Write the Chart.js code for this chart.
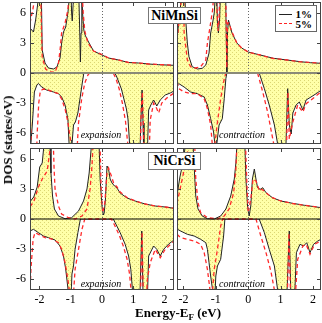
<!DOCTYPE html>
<html>
<head>
<meta charset="utf-8">
<script src="https://cdn.jsdelivr.net/npm/chart.js@4.4.1/dist/chart.umd.min.js"></script>
<style>
  html, body { margin: 0; padding: 0; background: #fff; }
  #wrap { position: relative; width: 322px; height: 323px; overflow: hidden; font-family: 'Liberation Serif', 'Times New Roman', serif; color: #000; }
  #wrap canvas { position: absolute; }
  .tag { position: absolute; box-sizing: border-box; border: 1px solid #777; background: #fff; font-weight: bold; font-size: 14px; line-height: 15px; text-align: center; }
  .note { position: absolute; font-style: italic; font-size: 10px; white-space: nowrap; transform: translate(-50%, -50%); }
  .title { position: absolute; font-weight: bold; font-size: 13px; white-space: nowrap; transform: translate(-50%, -50%); }
  .title sub { font-size: 9px; vertical-align: -3px; line-height: 0; }
  .legend { position: absolute; box-sizing: border-box; border: 1px solid #666; background: #fff; }
  .legend .ln { position: absolute; left: 3px; width: 13px; height: 0; }
  .legend .lab { position: absolute; right: 4px; font-size: 11px; font-weight: bold; line-height: 11px; }
</style>
</head>
<body>
<div id="wrap">
  <canvas id="p0" width="176" height="146" style="left:0;top:0"></canvas>
  <canvas id="p1" width="146" height="146" style="left:176px;top:0"></canvas>
  <canvas id="p2" width="176" height="177" style="left:0;top:146px"></canvas>
  <canvas id="p3" width="146" height="177" style="left:176px;top:146px"></canvas>

  <div class="tag" id="tag0" style="left:148px;top:7px;width:53px;height:17px"></div>
  <div class="tag" id="tag1" style="left:148px;top:152px;width:53px;height:18px"></div>

  <div class="note" id="note0" style="left:101px;top:134px"></div>
  <div class="note" id="note1" style="left:242px;top:134px"></div>
  <div class="note" id="note2" style="left:101px;top:283px"></div>
  <div class="note" id="note3" style="left:242px;top:283px"></div>

  <div class="legend" style="left:275px;top:5px;width:42px;height:27px">
    <div class="ln" style="top:8px;border-top:1px solid #222"></div>
    <div class="lab" id="leg0" style="top:3px"></div>
    <div class="ln" style="top:17px;border-top:1.5px dashed #f22"></div>
    <div class="lab" id="leg1" style="top:13px"></div>
  </div>

  <div class="title" style="left:8px;top:140px;transform:translate(-50%,-50%) rotate(-90deg)">DOS (states/eV)</div>
  <div class="title" style="left:178px;top:313px">Energy-E<sub>F</sub> (eV)</div>
</div>

<script>
const compounds = ['NiMnSi', 'NiCrSi']
const strains = ['expansion', 'contraction']
const seriesNames = ['1%', '5%']
const energyTicks = [-2, -1, 0, 1, 2]
const dosTicks = [-6, -3, 0, 3, 6]

// [E - E_F (eV), DOS (states/eV)]; values beyond +-7 run off the panel
const mnExpUp1 = [[-2.3,4.5],[-2.19,4.1],[-2.12,5.3],[-2.05,7.0],[-2.0,9],[-1.96,9],[-1.93,6.5],[-1.91,2.3],[-1.82,1.0],[-1.71,0.5],[-1.55,0.4],[-1.44,0.6],[-1.34,1.5],[-1.29,3.0],[-1.23,4.1],[-1.16,4.6],[-1.09,6.0],[-1.05,7.3],[-1.0,9],[-0.97,6],[-0.95,5.2],[-0.92,7],[-0.9,9],[-0.75,9],[-0.71,4],[-0.69,1.1],[-0.67,4],[-0.645,8],[-0.62,6],[-0.58,4.3],[-0.54,3.8],[-0.43,3.1],[-0.27,2.2],[0,1.8],[0.21,1.5],[0.53,1.3],[0.85,1.05],[1.17,1.0],[1.49,0.9],[1.81,0.83],[2.3,0.77]]
const mnExpUp5 = [[-2.3,5.0],[-2.2,6.5],[-2.13,8],[-2.0,9],[-1.96,8],[-1.93,4],[-1.91,1.6],[-1.8,0.4],[-1.66,0.1],[-1.5,0.07],[-1.39,1.0],[-1.34,2.3],[-1.29,4.0],[-1.18,5.0],[-1.09,6.3],[-1.05,8],[-0.95,9],[-0.65,9],[-0.6,6],[-0.55,4.2],[-0.45,3.0],[-0.27,2.2],[0,1.85],[0.21,1.5],[0.53,1.3],[0.85,1.05],[1.17,1.0],[1.49,0.9],[1.81,0.85],[2.3,0.78]]
const mnExpDn1 = [[-2.3,-9],[-2.27,-7],[-2.22,-4.9],[-2.16,-1.9],[-2.08,-1.2],[-2.03,-1.05],[-1.93,-1.4],[-1.77,-1.7],[-1.55,-1.9],[-1.39,-2.07],[-1.29,-2.4],[-1.18,-3.2],[-1.09,-4.6],[-1.05,-7.2],[-1.0,-9],[-0.96,-7.2],[-0.91,-5.2],[-0.85,-4.9],[-0.77,-4.0],[-0.7,-2.5],[-0.63,-1.0],[-0.58,0],[0.4,0],[0.46,-0.3],[0.62,-1.6],[0.78,-3.6],[0.83,-4.6],[0.88,-7],[0.9,-9],[1.2,-9],[1.24,-5],[1.28,-1.7],[1.31,-5],[1.34,-9],[1.44,-9],[1.49,-3.7],[1.56,-3.2],[1.65,-2.7],[1.75,-3.3],[1.86,-2.7],[2.02,-2.2],[2.18,-2.0],[2.3,-1.8]]
const mnExpDn5 = [[-2.3,-3.5],[-2.26,-7.2],[-2.24,-9],[-2.1,-9],[-2.07,-6],[-2.02,-3],[-1.97,-1.8],[-1.88,-1.6],[-1.72,-1.7],[-1.55,-1.9],[-1.39,-2.07],[-1.29,-2.6],[-1.18,-3.6],[-1.09,-4.9],[-1.01,-6.6],[-0.97,-9],[-0.82,-9],[-0.75,-5],[-0.65,-2.6],[-0.55,-1.0],[-0.45,-0.2],[-0.4,0],[0.36,0],[0.45,-0.6],[0.55,-1.6],[0.65,-3.0],[0.75,-4.8],[0.82,-7],[0.85,-9],[1.22,-9],[1.25,-4],[1.29,-1.9],[1.32,-5],[1.35,-9],[1.5,-9],[1.54,-4.7],[1.65,-3.0],[1.74,-3.5],[1.81,-4.0],[1.91,-3.0],[2.07,-2.5],[2.3,-2.0]]

const mnConUp1 = [[-2.2,4.0],[-2.17,4.4],[-2.11,6.0],[-2.07,7.5],[-2.03,9],[-1.97,9],[-1.93,5.3],[-1.88,3.0],[-1.83,1.63],[-1.73,0.63],[-1.57,0.4],[-1.42,0.47],[-1.31,0.8],[-1.21,2.0],[-1.16,4.0],[-1.1,5.0],[-1.05,6.0],[-1.02,7.5],[-0.98,9],[-0.95,5],[-0.92,4.0],[-0.88,5.5],[-0.85,9],[-0.7,9],[-0.68,4],[-0.66,0.1],[-0.64,4],[-0.61,5.3],[-0.5,4.0],[-0.35,3.0],[-0.2,2.5],[0,2.1],[0.37,1.8],[0.78,1.47],[1.2,1.3],[1.61,1.13],[1.92,1.03],[2.25,0.97]]
const mnConUp5 = [[-2.2,3.3],[-2.14,5],[-2.06,7.5],[-2.03,9],[-2.0,9],[-1.98,4.0],[-1.88,1.3],[-1.78,0.63],[-1.67,0.47],[-1.47,0.63],[-1.31,1.3],[-1.26,3.0],[-1.18,4.6],[-1.1,6.3],[-1.06,8],[-1.0,9],[-0.96,6],[-0.93,4.2],[-0.9,5.5],[-0.87,9],[-0.7,9],[-0.68,5],[-0.66,0.5],[-0.64,5],[-0.6,5.0],[-0.5,4.1],[-0.35,3.0],[-0.2,2.5],[0,2.1],[0.37,1.8],[0.78,1.45],[1.2,1.3],[1.61,1.12],[1.92,1.05],[2.25,0.97]]
const mnConDn1 = [[-2.2,-1.2],[-2.14,-1.07],[-1.98,-1.4],[-1.78,-1.9],[-1.57,-2.07],[-1.36,-2.4],[-1.26,-3.2],[-1.16,-4.57],[-1.07,-5.9],[-1.03,-7.1],[-1.0,-9],[-0.97,-7.1],[-0.9,-5.2],[-0.8,-4.57],[-0.74,-2.57],[-0.69,-0.57],[-0.66,0],[0.34,0],[0.5,-1.57],[0.65,-3.2],[0.81,-5.2],[0.91,-7.1],[0.95,-9],[1.15,-9],[1.22,-1.57],[1.27,-5.2],[1.33,-6.1],[1.38,-4.0],[1.48,-3.2],[1.58,-2.9],[1.69,-3.7],[1.79,-2.7],[1.94,-2.4],[2.1,-2.07],[2.25,-1.73]]
const mnConDn5 = [[-2.2,-0.9],[-2.14,-1.57],[-1.98,-1.9],[-1.78,-2.07],[-1.57,-2.07],[-1.36,-2.57],[-1.26,-3.57],[-1.16,-5.2],[-1.11,-7.1],[-1.08,-9],[-1.05,-9],[-1.03,-7.1],[-0.95,-4.9],[-0.85,-2.57],[-0.74,-0.57],[-0.69,0],[0.29,0],[0.45,-1.9],[0.6,-3.9],[0.7,-5.6],[0.79,-7.1],[0.82,-9],[1.17,-9],[1.23,-1.9],[1.27,-6.6],[1.38,-4.9],[1.53,-3.2],[1.69,-3.9],[1.79,-3.07],[1.94,-2.7],[2.25,-1.9]]

const crExpUp1 = [[-2.3,1.73],[-2.18,2.2],[-2.07,3.2],[-1.99,5.2],[-1.91,5.6],[-1.86,7.2],[-1.82,9],[-1.7,9],[-1.66,7.2],[-1.63,4.6],[-1.58,2.3],[-1.52,1.0],[-1.39,0.3],[-1.18,0.03],[-0.97,0.13],[-0.75,0.8],[-0.59,1.8],[-0.48,3.0],[-0.41,4.6],[-0.34,7.3],[-0.3,9],[-0.12,9],[-0.09,7.2],[-0.06,4.0],[0.0,1.3],[0.04,0.4],[0.07,0.6],[0.11,2.0],[0.16,5.3],[0.21,5.0],[0.26,4.0],[0.32,3.6],[0.4,3.3],[0.48,3.1],[0.58,2.6],[0.8,2.1],[1.06,1.8],[1.38,1.5],[1.7,1.3],[2.02,1.2],[2.3,1.07]]
const crExpUp5 = [[-2.3,1.23],[-2.18,1.73],[-2.03,3.2],[-1.91,4.0],[-1.75,4.8],[-1.65,7.2],[-1.6,9],[-1.57,9],[-1.53,5],[-1.5,3.0],[-1.39,1.3],[-1.29,0.5],[-1.07,0.13],[-0.86,0],[-0.64,0.3],[-0.48,1.0],[-0.38,3.0],[-0.32,5.3],[-0.29,7.2],[-0.26,9],[-0.09,9],[-0.06,7.2],[-0.03,3.3],[0.02,0.6],[0.09,1.6],[0.16,4.6],[0.21,5.1],[0.3,4.3],[0.37,3.6],[0.48,3.2],[0.58,2.7],[0.8,2.15],[1.06,1.8],[1.38,1.5],[1.7,1.3],[2.02,1.2],[2.3,1.07]]
const crExpDn1 = [[-2.3,-1.2],[-2.19,-1.03],[-2.03,-1.37],[-1.87,-1.7],[-1.71,-1.87],[-1.5,-2.1],[-1.34,-2.7],[-1.23,-3.7],[-1.16,-5.0],[-1.09,-6.9],[-1.06,-9],[-1.0,-9],[-0.96,-5.5],[-0.91,-4.7],[-0.86,-3.03],[-0.77,-1.37],[-0.69,0],[0.36,0],[0.42,-0.37],[0.58,-1.37],[0.74,-2.53],[0.85,-3.7],[0.92,-5.03],[0.97,-7],[1.0,-9],[1.2,-9],[1.27,-1.2],[1.32,-9],[1.44,-9],[1.49,-3.7],[1.65,-2.7],[1.75,-3.03],[1.86,-3.7],[1.97,-3.03],[2.13,-2.5],[2.3,-2.1]]
const crExpDn5 = [[-2.3,-7.5],[-2.27,-5],[-2.2,-2],[-2.14,-1.37],[-2.03,-1.53],[-1.82,-1.87],[-1.6,-2.0],[-1.39,-2.37],[-1.29,-3.03],[-1.18,-4.37],[-1.09,-6.03],[-1.04,-7.2],[-1.0,-9],[-0.93,-9],[-0.9,-7],[-0.86,-5.03],[-0.75,-3.03],[-0.64,-1.03],[-0.55,0],[0.3,0],[0.4,-0.6],[0.55,-1.6],[0.68,-2.7],[0.8,-4],[0.88,-5.5],[0.93,-7.2],[0.96,-9],[1.22,-9],[1.28,-1.3],[1.33,-9],[1.4,-9],[1.45,-6],[1.54,-4.37],[1.7,-3.03],[1.86,-3.87],[2.02,-3.03],[2.3,-2.2]]

const crConUp1 = [[-2.2,2.4],[-2.19,2.57],[-2.11,4.2],[-2.0,5.9],[-1.95,7.2],[-1.9,9],[-1.73,9],[-1.7,7.2],[-1.67,5.3],[-1.62,2.3],[-1.55,1.0],[-1.42,0.3],[-1.26,0.03],[-1.05,0],[-0.85,0.3],[-0.69,1.0],[-0.54,2.3],[-0.43,4.0],[-0.38,5.6],[-0.35,7.3],[-0.32,9],[-0.13,9],[-0.1,7.2],[-0.07,4.0],[-0.02,1.3],[0.03,0.3],[0.08,1.3],[0.13,4.0],[0.19,5.0],[0.24,4.0],[0.29,3.13],[0.37,2.97],[0.45,3.13],[0.55,2.63],[0.75,2.13],[1.01,1.8],[1.37,1.57],[1.74,1.37],[2.05,1.23],[2.25,1.13]]
const crConUp5 = [[-2.2,1.57],[-2.11,2.9],[-2.0,4.6],[-1.9,5.9],[-1.86,7.2],[-1.82,9],[-1.68,9],[-1.65,7.2],[-1.62,3.97],[-1.55,1.63],[-1.47,0.63],[-1.26,0.13],[-0.95,0],[-0.74,0.3],[-0.59,1.0],[-0.45,2.6],[-0.38,5.0],[-0.35,7.2],[-0.33,9],[-0.12,9],[-0.08,7.2],[-0.04,3.5],[0.0,0.63],[0.08,2.0],[0.15,4.0],[0.24,3.8],[0.35,2.8],[0.41,2.97],[0.5,2.8],[0.6,2.5],[0.75,2.13],[1.01,1.8],[1.37,1.55],[1.74,1.37],[2.05,1.23],[2.25,1.13]]
const crConDn1 = [[-2.2,-1.0],[-2.09,-1.2],[-1.88,-1.53],[-1.67,-1.7],[-1.47,-2.03],[-1.31,-2.37],[-1.26,-3.03],[-1.21,-4.37],[-1.16,-5.7],[-1.1,-7.1],[-1.07,-9],[-1.05,-9],[-1.0,-5.7],[-0.95,-4.7],[-0.85,-4.03],[-0.76,-1.7],[-0.72,0],[0.34,0],[0.5,-1.37],[0.65,-3.03],[0.81,-4.7],[0.91,-7.1],[0.95,-9],[1.18,-9],[1.27,-1.2],[1.33,-9],[1.42,-9],[1.49,-3.37],[1.6,-2.53],[1.71,-2.7],[1.81,-2.37],[1.91,-3.37],[2.02,-2.53],[2.15,-2.2],[2.25,-2.03]]
const crConDn5 = [[-2.2,-1.53],[-2.09,-1.87],[-1.88,-2.03],[-1.67,-2.2],[-1.47,-2.53],[-1.36,-3.37],[-1.26,-5.03],[-1.18,-7.1],[-1.15,-9],[-1.12,-9],[-1.1,-7.1],[-1.05,-5.03],[-0.95,-3.03],[-0.85,-0.7],[-0.79,0],[0.24,0],[0.39,-1.7],[0.55,-3.37],[0.7,-5.2],[0.81,-7.1],[0.84,-9],[1.2,-9],[1.26,-1.4],[1.32,-9],[1.43,-9],[1.53,-4.03],[1.69,-2.7],[1.79,-2.53],[1.91,-3.53],[2.05,-2.53],[2.25,-2.2]]

Chart.defaults.font.family = "'Liberation Serif', 'Times New Roman', serif"
Chart.defaults.font.size = 12
Chart.defaults.color = '#000'

// dotted yellow fill, like the hatch in the original figure
function makePattern() {
  const c = document.createElement('canvas')
  c.width = 4
  c.height = 4
  const g = c.getContext('2d')
  g.fillStyle = '#ffffa8'
  g.fillRect(0, 0, 4, 4)
  g.fillStyle = '#dcd674'
  g.fillRect(0, 0, 1, 1)
  g.fillRect(2, 2, 1, 1)
  return g.createPattern(c, 'repeat')
}
const hatch = makePattern()

// frame, inward ticks, E_F marker and zero line
const frame = {
  id: 'frame',
  afterDatasetsDraw(chart, args, opts) {
    const { ctx, chartArea: a, scales: { x, y } } = chart
    ctx.save()
    const x0 = Math.round(x.getPixelForValue(0)) + 0.5
    ctx.strokeStyle = '#666'
    ctx.lineWidth = 1
    ctx.setLineDash([1, 2])
    ctx.beginPath()
    ctx.moveTo(x0, a.top)
    ctx.lineTo(x0, a.bottom)
    ctx.stroke()
    ctx.setLineDash([])

    const y0 = y.getPixelForValue(0)
    ctx.strokeStyle = opts.zeroColor
    ctx.lineWidth = opts.zeroWidth
    ctx.beginPath()
    ctx.moveTo(a.left, y0)
    ctx.lineTo(a.right, y0)
    ctx.stroke()

    ctx.strokeStyle = '#444'
    ctx.lineWidth = 1
    ctx.beginPath()
    x.ticks.forEach(t => {
      const px = Math.round(x.getPixelForValue(t.value)) + 0.5
      ctx.moveTo(px, a.top); ctx.lineTo(px, a.top + 4)
      ctx.moveTo(px, a.bottom); ctx.lineTo(px, a.bottom - 4)
    })
    y.ticks.forEach(t => {
      const py = Math.round(y.getPixelForValue(t.value)) + 0.5
      ctx.moveTo(a.left, py); ctx.lineTo(a.left + 4, py)
      ctx.moveTo(a.right, py); ctx.lineTo(a.right - 4, py)
    })
    ctx.stroke()
    ctx.strokeRect(a.left + 0.5, a.top + 0.5, a.width - 1, a.height - 1)
    ctx.restore()
  }
}

function curve(points, dashed) {
  return {
    data: points.map(p => ({ x: p[0], y: p[1] })),
    borderColor: dashed ? '#ff2a2a' : '#222',
    borderWidth: dashed ? 1.3 : 1,
    borderDash: dashed ? [4, 3] : [],
    pointRadius: 0,
    tension: 0,
    fill: dashed ? false : 'origin',
    backgroundColor: dashed ? 'transparent' : hatch
  }
}

const panels = [
  { id: 'p0', up: [mnExpUp1, mnExpUp5], dn: [mnExpDn1, mnExpDn5], range: [-2.3, 2.3], left: true, bottom: false },
  { id: 'p1', up: [mnConUp1, mnConUp5], dn: [mnConDn1, mnConDn5], range: [-2.2, 2.25], left: false, bottom: false },
  { id: 'p2', up: [crExpUp1, crExpUp5], dn: [crExpDn1, crExpDn5], range: [-2.3, 2.3], left: true, bottom: true },
  { id: 'p3', up: [crConUp1, crConUp5], dn: [crConDn1, crConDn5], range: [-2.2, 2.25], left: false, bottom: true }
]

panels.forEach(p => {
  new Chart(document.getElementById(p.id), {
    type: 'line',
    data: {
      datasets: [
        curve(p.up[1], true),
        curve(p.dn[1], true),
        curve(p.up[0], false),
        curve(p.dn[0], false)
      ]
    },
    options: {
      responsive: false,
      animation: false,
      devicePixelRatio: 1,
      layout: { padding: { top: 2, right: p.left ? 2 : 1, left: 0, bottom: 0 } },
      plugins: {
        legend: { display: false },
        tooltip: { enabled: false },
        frame: { zeroColor: p.bottom ? '#000' : '#8a8a78', zeroWidth: p.bottom ? 1 : 2 }
      },
      scales: {
        x: {
          type: 'linear',
          min: p.range[0],
          max: p.range[1],
          grid: { display: false, drawTicks: false },
          border: { display: false },
          ticks: { display: p.bottom, padding: 3, maxRotation: 0, autoSkip: false },
          afterBuildTicks: s => { s.ticks = energyTicks.map(v => ({ value: v })) },
          afterFit: s => { s.height = p.bottom ? 33 : 2; s.paddingLeft = 0; s.paddingRight = 0 }
        },
        y: {
          min: -7.1,
          max: 7.1,
          grid: { display: false, drawTicks: false },
          border: { display: false },
          ticks: { display: p.left, padding: 4, autoSkip: false },
          afterBuildTicks: s => { s.ticks = dosTicks.map(v => ({ value: v })) },
          afterFit: s => { s.width = p.left ? 30 : 1; s.paddingTop = 0; s.paddingBottom = 0 }
        }
      }
    },
    plugins: [frame]
  })
})

document.getElementById('tag0').textContent = compounds[0]
document.getElementById('tag1').textContent = compounds[1]
document.getElementById('note0').textContent = strains[0]
document.getElementById('note1').textContent = strains[1]
document.getElementById('note2').textContent = strains[0]
document.getElementById('note3').textContent = strains[1]
document.getElementById('leg0').textContent = seriesNames[0]
document.getElementById('leg1').textContent = seriesNames[1]
</script>
</body>
</html>
